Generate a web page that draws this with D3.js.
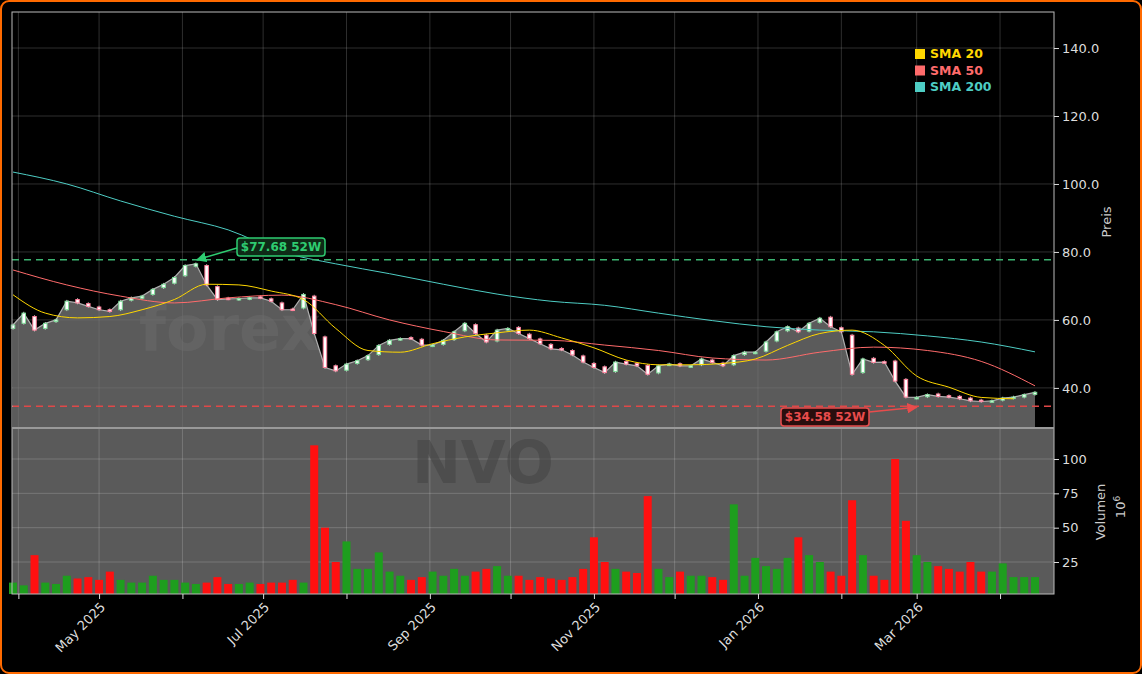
<!DOCTYPE html>
<html><head><meta charset="utf-8">
<script src="https://cdn.jsdelivr.net/npm/d3@7/dist/d3.min.js"></script>
<style>body{margin:0;background:#000;}svg{display:block}</style></head>
<body><svg id="c" width="1142" height="674"></svg>
<script>
const startDate = "2025-03-30";
const stepDays = 4;
const closes = [58.5,62,57,59,60,65.5,65,64,63,62.5,65.5,66.5,67,69,70.5,72.5,76,76.5,70.3,66,66.2,66.3,66.5,66.5,65.5,63,63,67.5,56,46,45,47,48,49.5,52.5,54,54.5,54.5,52.6,52.6,54,56.5,59,56,53.5,57,57.5,56,54.5,53,51.5,51.2,49.7,47.6,46,44.5,47.6,47,46.5,44,46.5,47,46.5,46.5,48.5,47.5,46.5,49.5,50.5,50.5,53.5,56.5,58,56.5,59,60.5,58,56.5,44,48.5,47.5,47.6,42,37.3,37.2,38,37.5,37.3,36.8,36.2,36,36.2,37,37.3,38,38.7];
const opens = [57.5,59,61,57.5,59.5,63,66,64.8,63.8,63,63,65.8,66.4,67.5,69.5,70.8,73,75.8,76,69.8,66.4,66,66.2,66.8,66.2,65,63.2,63.5,67,55,46.5,45.2,47.2,48.3,49.8,52.8,54.2,54.8,54.3,52.4,52.8,54.2,56.8,58.6,55.5,53.8,57,57.8,55.8,54.4,52.8,51.6,51,49.4,47.2,46.2,44.8,47.8,47.2,46.6,44.4,46.8,47.1,46.3,46.8,48.2,47.3,46.8,49.8,50.3,50.8,53.8,56.8,57.6,56.7,59.3,60.8,57.7,55.5,44.5,48.7,47.7,47.9,42.5,37,37.4,38.2,37.7,37.5,37,36.4,36.1,36.4,37,37.3,38.1];
const volumes = [10,8,30,10,9,15,13,14,12,18,12,10,10,15,12,12,10,9,10,14,9,9,10,9,10,10,12,10,110,50,25,40,20,20,32,18,15,12,14,18,15,20,15,18,20,22,15,15,12,14,13,12,14,20,43,25,20,18,17,73,20,14,18,15,15,14,12,67,15,28,22,20,28,43,30,25,18,15,70,30,15,12,100,55,30,25,22,20,18,25,18,18,24,14,14,14];
const sma200 = [103.5,100,95,90.5,86.5,80,76.5,73.6,70.5,67.6,65.5,64.3,62,59.8,58,57,56.5,55.3,53.5,50.6]; // every 5 points
const sma50 = [74.7,70.3,67,65,66.5,67.3,64.5,60,56.6,54.1,54,52.6,51,48.8,48.2,50.5,52,51,47.8,40.6]; // every 5 points
const sma20 = [67.4,62,60.6,61,63,66,70.5,70.3,68.5,66,57.5,51,50.5,53,55,56.2,57,54.7,51.8,48.2,46.8,46.8,47.2,48.5,52.5,56,57,52.5,43.5,40.2,37.2,36.8]; // every 3 points
const priceTicks = [40,60,80,100,120,140];
const volTicks = [25,50,75,100];
const high52 = 77.68, low52 = 34.58;

const svg = d3.select("#c");
const L=12,R=1054,T=12,M=428,B=594;
const t0 = d3.timeParse("%Y-%m-%d")(startDate);
const dates = closes.map((_,i)=>d3.timeDay.offset(t0,i*stepDays));
const x = d3.scaleTime().domain([t0, d3.timeDay.offset(t0,95*stepDays)]).range([L+1,1035]);
const y = d3.scaleLinear().domain([28.2,150.6]).range([M,T]);
const yv = d3.scaleLinear().domain([1.7,122.6]).range([B,M]);
const font="DejaVu Sans";

svg.append("rect").attr("x",1).attr("y",1).attr("width",1140).attr("height",672).attr("rx",8).attr("fill","#000").attr("stroke","#ff6a00").attr("stroke-width",2);
svg.append("rect").attr("x",L).attr("y",M).attr("width",R-L).attr("height",B-M).attr("fill","#5a5a5a");

const months = d3.timeMonth.range(new Date(2025,3,1), new Date(2026,4,1));
const g = svg.append("g");
months.forEach(m=>{ g.append("line").attr("x1",x(m)).attr("x2",x(m)).attr("y1",T).attr("y2",B).attr("stroke","#fff").attr("stroke-opacity",0.18);});
priceTicks.forEach(v=>g.append("line").attr("x1",L).attr("x2",R).attr("y1",y(v)).attr("y2",y(v)).attr("stroke","#fff").attr("stroke-opacity",0.18));
volTicks.forEach(v=>g.append("line").attr("x1",L).attr("x2",R).attr("y1",yv(v)).attr("y2",yv(v)).attr("stroke","#fff").attr("stroke-opacity",0.18));

svg.append("text").attr("x",230).attr("y",350).attr("text-anchor","middle").attr("font-family",font).attr("font-weight","bold").attr("font-size",62).attr("fill","#444").attr("fill-opacity",0.5).text("forex");
svg.append("text").attr("x",483).attr("y",483).attr("text-anchor","middle").attr("font-family",font).attr("font-weight","bold").attr("font-size",58).attr("fill","#444").attr("fill-opacity",0.6).text("NVO");

const pts = closes.map((c,i)=>[dates[i],c]);
svg.append("path").datum(pts).attr("d",d3.area().x(d=>x(d[0])).y0(M).y1(d=>y(d[1]))).attr("fill","#7a7a7a").attr("fill-opacity",0.75);
svg.append("path").datum(pts).attr("d",d3.line().x(d=>x(d[0])).y(d=>y(d[1]))).attr("fill","none").attr("stroke","#b0b0b0").attr("stroke-width",1.2);

const cw=3.5;
closes.forEach((c,i)=>{
  const o=opens[i], up=c>=o, col= up?"#7fdc9a":"#ff7f9a";
  const hi=Math.max(o,c), lo=Math.min(o,c);
  svg.append("line").attr("x1",x(dates[i])).attr("x2",x(dates[i])).attr("y1",y(hi+0.4)).attr("y2",y(lo-0.4)).attr("stroke","#ddd").attr("stroke-width",0.8);
  svg.append("rect").attr("x",x(dates[i])-cw/2).attr("y",y(hi)).attr("width",cw).attr("height",Math.max(1.5,y(lo)-y(hi))).attr("fill","#fff").attr("stroke",col).attr("stroke-width",1);
});

function smaLine(arr,step,color,w){
  const d=arr.map((v,k)=>[dates[Math.min(k*step,95)],v]);
  svg.append("path").datum(d).attr("d",d3.line().curve(d3.curveMonotoneX).x(p=>x(p[0])).y(p=>y(p[1]))).attr("fill","none").attr("stroke",color).attr("stroke-width",w);
}
smaLine(sma200,5,"#4ecdc4",1);
smaLine(sma50,5,"#ff6b6b",1);
smaLine(sma20,3,"#ffd700",1);

svg.append("line").attr("x1",L).attr("x2",R).attr("y1",y(high52)).attr("y2",y(high52)).attr("stroke","#3cb371").attr("stroke-width",1.5).attr("stroke-dasharray","7,5");
svg.append("line").attr("x1",L).attr("x2",R).attr("y1",y(low52)).attr("y2",y(low52)).attr("stroke","#e04848").attr("stroke-width",1.5).attr("stroke-dasharray","7,5");

const defs=svg.append("defs");
[["ag","#2ecc71"],["ar","#e84c4c"]].forEach(([id,c])=>defs.append("marker").attr("id",id).attr("viewBox","0 0 10 10").attr("refX",9).attr("refY",5).attr("markerWidth",7).attr("markerHeight",7).attr("orient","auto").append("path").attr("d","M0,0L10,5L0,10z").attr("fill",c));
function ann(txt,bx,by,lx,ly,tx,ty,c,fill,mk){
  svg.append("line").attr("x1",lx).attr("y1",ly).attr("x2",tx).attr("y2",ty).attr("stroke",c).attr("stroke-width",1.5).attr("marker-end",`url(#${mk})`);
  svg.append("rect").attr("x",bx).attr("y",by).attr("width",88).attr("height",18).attr("rx",3).attr("fill",fill).attr("stroke",c).attr("stroke-width",1.5);
  svg.append("text").attr("x",bx+44).attr("y",by+13).attr("text-anchor","middle").attr("font-family",font).attr("font-weight","bold").attr("font-size",12).attr("fill",c).text(txt);
}
ann("$"+high52.toFixed(2)+" 52W",237,238,237,248,x(dates[17])+1,y(high52),"#2ecc71","#0e2a17","ag");
ann("$"+low52.toFixed(2)+" 52W",781,408,869,412,x(dates[84]),y(low52)+1,"#e84c4c","#2a0e0e","ar");

volumes.forEach((v,i)=>{
  const up=closes[i]>=opens[i];
  svg.append("rect").attr("x",x(dates[i])-4).attr("y",yv(v)).attr("width",8).attr("height",B-yv(v)).attr("fill",up?"#1e9e1e":"#ff1010");
});

svg.append("rect").attr("x",L).attr("y",T).attr("width",R-L).attr("height",B-T).attr("fill","none").attr("stroke","#bbb").attr("stroke-width",1);
svg.append("line").attr("x1",L).attr("x2",R).attr("y1",M).attr("y2",M).attr("stroke","#999").attr("stroke-width",2);

const ay=svg.append("g").attr("transform",`translate(${R},0)`).call(d3.axisRight(y).tickValues(priceTicks).tickFormat(d3.format(".1f")).tickSize(5));
const av=svg.append("g").attr("transform",`translate(${R},0)`).call(d3.axisRight(yv).tickValues(volTicks).tickSize(5));
const ax=svg.append("g").attr("transform",`translate(0,${B})`).call(d3.axisBottom(x).tickValues(months).tickFormat(d=>d.getMonth()%2===0?d3.timeFormat("%b %Y")(d):"").tickSize(5));
[ay,av,ax].forEach(a=>{a.select(".domain").remove();a.selectAll("line").attr("stroke","#ddd");a.selectAll("text").attr("fill","#ddd").attr("font-family",font).attr("font-size",13);});
ax.selectAll("text").attr("text-anchor","end").attr("transform","rotate(-45)").attr("dx","-0.4em").attr("dy","0.5em");

svg.append("text").attr("transform","translate(1111,222) rotate(-90)").attr("text-anchor","middle").attr("font-family",font).attr("font-size",13).attr("fill","#ccc").text("Preis");
svg.append("text").attr("transform","translate(1105,512) rotate(-90)").attr("text-anchor","middle").attr("font-family",font).attr("font-size",13).attr("fill","#ccc").text("Volumen");
const tt=svg.append("text").attr("transform","translate(1125,507) rotate(-90)").attr("text-anchor","middle").attr("font-family",font).attr("font-size",13).attr("fill","#ccc");
tt.append("tspan").text("10");tt.append("tspan").attr("dy",-5).attr("font-size",9).text("6");

[["SMA 20","#ffd700"],["SMA 50","#ff6b6b"],["SMA 200","#4ecdc4"]].forEach(([t,c],k)=>{
  svg.append("rect").attr("x",915).attr("y",49+k*16.5).attr("width",10).attr("height",10).attr("fill",c);
  svg.append("text").attr("x",930).attr("y",58+k*16.5).attr("font-family",font).attr("font-weight","bold").attr("font-size",12.5).attr("fill",c).text(t);
});
</script></body></html>
